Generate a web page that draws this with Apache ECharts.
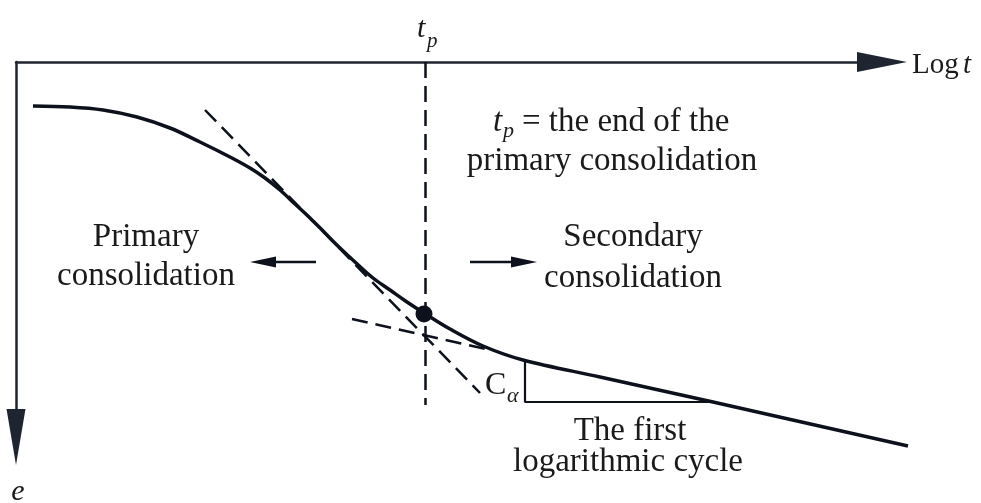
<!DOCTYPE html>
<html>
<head>
<meta charset="utf-8">
<script src="https://cdn.jsdelivr.net/npm/echarts@6/dist/echarts.min.js"></script>
<style>
  html, body { margin: 0; padding: 0; background: #ffffff; }
  #chart { width: 981px; height: 503px; }
</style>
</head>
<body>
<div id="chart"></div>
<script>
// e–log t consolidation curve (schematic units)
const curveLogT = [1.7, 5.4, 8.7, 12.1, 15.4, 18.4, 21.4, 23.4, 24.9, 26.4, 27.9, 29.4, 30.9, 32.4, 33.9, 35.7, 37.4, 39.1, 40.8, 43.4, 46.7, 50.7, 58.4, 69.7, 89.2];
const curveE    = [4.4, 4.5, 4.8, 5.5, 6.6, 8.0, 9.5, 10.6, 11.6, 12.8, 14.2, 15.6, 17.1, 18.6, 20.0, 21.6, 22.8, 24.0, 25.1, 26.7, 28.4, 29.8, 31.5, 34.0, 38.4];

// construction lines
const upperTangent = [[18.9, 4.8], [46.4, 33.1]];
const lowerTangent = [[33.6, 25.7], [47.4, 28.8]];
const tpLine       = [[40.9, 0], [40.9, 34.3]];
const tpPoint      = [40.8, 25.2];
const cycleTriangle = [[50.9, 29.8], [50.9, 34.0], [69.7, 34.0]];
const primaryArrow   = [[30.0, 20.0], [24.7, 20.0]];
const secondaryArrow = [[45.4, 20.0], [50.8, 20.0]];

// visible axes end at the arrowheads; the drawing area reaches a little further
const AXIS_MAX_X = 86.6;
const AXIS_MAX_Y = 37.5;
const PLOT_MAX_X = 92;
const PLOT_MAX_Y = 42;
const PX_PER_UNIT = 10;

const INK = '#0c111c';
const AXIS_INK = '#1f2530';
const TEXT_INK = '#1a1a1a';
const SERIF = "'Liberation Serif', 'Times New Roman', serif";

const chart = echarts.init(document.getElementById('chart'), null, { renderer: 'canvas' });

function text(str, x, y, size, opt) {
  opt = opt || {};
  const align = opt.align || 'center';
  return {
    type: 'text', x: x, y: y, z: 100,
    style: {
      text: str,
      fontSize: size,
      fontFamily: SERIF,
      fontStyle: opt.italic ? 'italic' : 'normal',
      fill: TEXT_INK,
      align: align, textAlign: align,
      verticalAlign: 'middle', textVerticalAlign: 'middle'
    }
  };
}

function arrowSeries(pts, rotate) {
  return {
    type: 'line', xAxisIndex: 1, yAxisIndex: 1,
    data: [
      { value: pts[0], symbol: 'none' },
      { value: pts[1], symbol: 'triangle', symbolSize: [11, 26], symbolRotate: rotate }
    ],
    showSymbol: true,
    lineStyle: { color: INK, width: 2.5 },
    itemStyle: { color: INK, opacity: 1 },
    silent: true,
    z: 5
  };
}

function dashedSeries(coords) {
  return {
    type: 'lines', coordinateSystem: 'cartesian2d', xAxisIndex: 1, yAxisIndex: 1,
    data: [{ coords: coords }],
    lineStyle: { type: [16, 8], width: 2.5, color: INK, opacity: 1 },
    z: 3, silent: true
  };
}

const hiddenAxis = {
  axisLine: { show: false }, axisTick: { show: false },
  axisLabel: { show: false }, splitLine: { show: false }
};

chart.setOption({
  animation: false,
  backgroundColor: '#ffffff',
  grid: [
    { left: 16, top: 62, width: AXIS_MAX_X * PX_PER_UNIT, height: AXIS_MAX_Y * PX_PER_UNIT },
    { left: 16, top: 62, width: PLOT_MAX_X * PX_PER_UNIT, height: PLOT_MAX_Y * PX_PER_UNIT }
  ],
  xAxis: [
    {
      type: 'value', gridIndex: 0, position: 'top', min: 0, max: AXIS_MAX_X,
      axisLine: { onZero: false, lineStyle: { color: AXIS_INK, width: 2.5 },
                  symbol: ['none', 'triangle'], symbolSize: [20, 50] },
      axisTick: { show: false }, axisLabel: { show: false }, splitLine: { show: false }
    },
    Object.assign({ type: 'value', gridIndex: 1, position: 'top', min: 0, max: PLOT_MAX_X }, hiddenAxis)
  ],
  yAxis: [
    {
      type: 'value', gridIndex: 0, inverse: true, position: 'left', min: 0, max: AXIS_MAX_Y,
      axisLine: { onZero: false, lineStyle: { color: AXIS_INK, width: 2.5 },
                  symbol: ['triangle', 'none'], symbolSize: [19, 56] },
      axisTick: { show: false }, axisLabel: { show: false }, splitLine: { show: false }
    },
    Object.assign({ type: 'value', gridIndex: 1, inverse: true, position: 'left', min: 0, max: PLOT_MAX_Y }, hiddenAxis)
  ],
  series: [
    {
      type: 'line', xAxisIndex: 1, yAxisIndex: 1,
      data: curveLogT.map((x, i) => [x, curveE[i]]),
      smooth: 0.35,
      showSymbol: false,
      lineStyle: { color: INK, width: 3.5 },
      silent: true, z: 4
    },
    dashedSeries(upperTangent),
    dashedSeries(lowerTangent),
    dashedSeries(tpLine),
    {
      type: 'line', xAxisIndex: 1, yAxisIndex: 1, data: cycleTriangle, showSymbol: false,
      lineStyle: { color: INK, width: 2.2 }, silent: true, z: 3
    },
    {
      type: 'scatter', xAxisIndex: 1, yAxisIndex: 1, data: [tpPoint], symbol: 'circle', symbolSize: 17,
      itemStyle: { color: INK, opacity: 1 }, silent: true, z: 6
    },
    arrowSeries(primaryArrow, 90),
    arrowSeries(secondaryArrow, -90)
  ],
  graphic: [
    text('t', 417, 29, 30, { italic: true, align: 'left' }),
    text('p', 427, 41, 21, { italic: true, align: 'left' }),
    text('Log', 912, 65, 29, { align: 'left' }),
    text('t', 963, 65, 29, { italic: true, align: 'left' }),
    text('e', 18, 492, 30, { italic: true }),
    text('t', 493, 122, 33, { italic: true, align: 'left' }),
    text('p', 503, 131, 22, { italic: true, align: 'left' }),
    text('= the end of the', 522, 122, 33, { align: 'left' }),
    text('primary consolidation', 612, 161, 33),
    text('Primary', 146, 237, 33),
    text('consolidation', 146, 276, 33),
    text('Secondary', 633, 237, 33),
    text('consolidation', 633, 278, 33),
    text('C', 485, 386, 32, { align: 'left' }),
    text('α', 507, 396, 22, { italic: true, align: 'left' }),
    text('The first', 630, 431, 33),
    text('logarithmic cycle', 628, 462, 33)
  ]
});
</script>
</body>
</html>
